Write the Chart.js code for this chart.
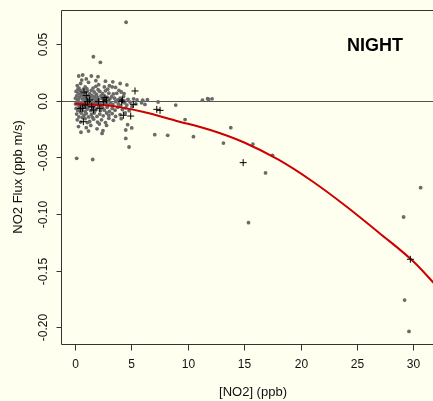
<!DOCTYPE html>
<html>
<head>
<meta charset="utf-8">
<title>NO2 flux - night</title>
<script src="https://cdn.jsdelivr.net/npm/chart.js@4/dist/chart.umd.min.js"></script>
<style>
  html, body { margin: 0; padding: 0; background: #FFFFF0; overflow: hidden; }
  canvas { display: block; }
</style>
</head>
<body>
<canvas id="fluxChart" width="460" height="401"></canvas>
<script>
// Night-time NO2 flux vs NO2 mixing ratio: [NO2 ppb, flux ppb m/s]
const grayPoints = [
  // cluster top
  [0.2,0.013],[0.5,0.015],[0.9,0.012],[1.2,0.016],[1.6,0.011],[2.1,0.014],[2.6,0.012],[3.3,0.012],
  [3.6,0.0115],[2.9,0.010],[4.6,0.0137],[0.35,0.011],[1.85,0.0125],[3.05,0.013],[3.9,0.009],
  [0.1,0.008],[0.3,0.006],[0.45,0.009],[0.6,0.0065],[0.75,0.010],[0.95,0.007],[1.1,0.0085],[1.3,0.006],
  [1.45,0.009],[1.7,0.0075],[1.9,0.0055],[2.2,0.008],[2.45,0.006],[2.7,0.0085],[3.0,0.0065],[3.4,0.0058],
  [3.7,0.0063],[4.35,0.006],[4.1,0.0075],[0.25,0.0095],[1.05,0.0105],[2.05,0.0095],
  // around zero
  [0.05,0.002],[0.15,0.004],[0.3,0.001],[0.4,0.003],[0.55,0.0045],[0.65,0.0015],[0.8,0.0035],[0.9,0.0005],
  [1.0,0.0025],[1.15,0.004],[1.25,0.001],[1.35,0.003],[1.5,0.0045],[1.6,0.0015],[1.75,0.0035],[1.85,0.0005],
  [2.0,0.003],[2.1,0.001],[2.3,0.004],[2.4,0.002],[2.55,0.0035],[2.7,0.0005],[2.85,0.003],[3.1,0.0015],
  [3.25,0.0035],[3.5,0.002],[3.8,0.0005],[4.0,0.002],[4.3,0.0035],[4.7,0.001],[5.2,0.0015],[5.5,0.0005],
  [6.0,0.0003],[6.42,0.0007],[3.9,0.0002],[4.2,-0.0004],
  [0.05,-0.003],[0.2,-0.001],[0.3,-0.004],[0.45,-0.002],[0.55,-0.0045],[0.7,-0.0015],[0.85,-0.0035],
  [0.95,-0.0005],[1.05,-0.004],[1.2,-0.002],[1.3,-0.0045],[1.45,-0.001],[1.55,-0.003],[1.7,-0.0045],
  [1.8,-0.0015],[1.95,-0.0035],[2.05,-0.0005],[2.2,-0.0025],[2.35,-0.0045],[2.5,-0.001],[2.65,-0.003],
  [2.8,-0.0015],[2.95,-0.004],[3.15,-0.002],[3.35,-0.0035],[3.6,-0.001],[3.85,-0.003],[4.05,-0.0045],
  [4.4,-0.002],[4.6,-0.004],[4.9,-0.0015],[5.4,-0.003],[5.9,-0.002],[6.2,-0.0035],[5.05,-0.0055],
  // cluster bottom
  [0.1,-0.007],[0.25,-0.009],[0.4,-0.0065],[0.6,-0.0085],[0.75,-0.006],[0.9,-0.0095],[1.1,-0.0075],
  [1.25,-0.0055],[1.4,-0.009],[1.6,-0.0065],[1.75,-0.0095],[1.9,-0.0075],[2.1,-0.0055],[2.25,-0.009],
  [2.45,-0.0065],[2.6,-0.0085],[2.85,-0.006],[3.05,-0.0095],[3.3,-0.007],[3.55,-0.0085],[3.8,-0.006],
  [4.2,-0.008],[4.5,-0.0065],[4.8,-0.009],[0.5,-0.0098],[1.0,-0.0052],
  [0.15,-0.012],[0.35,-0.0145],[0.55,-0.011],[0.8,-0.013],[1.0,-0.0115],[1.2,-0.0145],[1.45,-0.0125],
  [1.7,-0.011],[1.95,-0.014],[2.2,-0.012],[2.5,-0.0135],[2.8,-0.011],[3.0,-0.013],[3.3,-0.0115],
  [3.6,-0.014],[4.0,-0.0125],[4.45,-0.011],[0.65,-0.015],[1.55,-0.0148],
  [0.2,-0.017],[0.5,-0.019],[0.9,-0.016],[1.3,-0.0185],[1.65,-0.0165],[2.0,-0.019],[2.35,-0.017],
  [2.7,-0.0195],[3.0,-0.0157],[3.4,-0.0175],[4.1,-0.016],[1.1,-0.0195],
  [0.31,-0.023],[0.53,-0.028],[1.0,-0.024],[1.4,-0.022],[1.95,-0.025],[2.16,-0.0207],[2.4,-0.029],
  [2.48,-0.0266],[2.8,-0.022],[1.2,-0.027],[4.67,-0.0213],[5.03,-0.0242],[4.5,-0.026],[4.5,-0.0334],
  [4.79,-0.041],[0.15,-0.051],[1.57,-0.052],
  // above the cluster
  [4.53,0.069],[1.63,0.0386],[2.25,0.0337],[0.33,0.0216],[0.68,0.0225],[1.45,0.0216],[2.04,0.021],
  [0.6,0.018],[1.0,0.019],[1.85,0.0175],[2.7,0.017],[3.35,0.0165],[4.0,0.015],
  // higher NO2
  [7.37,-0.0013],[8.93,-0.004],[9.76,-0.0168],[7.07,-0.0301],[8.22,-0.0307],[10.5,-0.0319],
  [11.3,0.0003],[11.75,0.0016],[11.85,0.0009],[12.15,0.0015],[13.81,-0.024],[13.16,-0.0375],
  [15.77,-0.0384],[17.51,-0.0483],[16.89,-0.0639],[15.38,-0.1077],[29.13,-0.1027],[30.64,-0.0769],
  [29.22,-0.176],[29.61,-0.2036]
];

const crossPoints = [
  [0.8,0.0075],[0.68,-0.0069],[0.47,-0.007],[0.74,-0.0187],[1.1,-0.001],[1.3,0.0005],[1.48,-0.0055],
  [1.63,-0.0084],[2.07,-0.001],[2.2,-0.0069],[2.5,-0.001],[2.66,0.0025],[2.8,0.0004],[4.2,0.0004],
  [4.14,-0.001],[5.17,-0.0034],[5.32,0.0084],[4.29,-0.013],[4.94,-0.0137],[7.25,-0.0078],[7.54,-0.0087],
  [14.91,-0.0548],[29.73,-0.140],[1.0,0.0045],[0.9,-0.004]
];

// fitted curve, read along its length
const fitX = [0, 3, 6, 9, 12, 15, 18, 21, 24, 27, 30, 32];
const fitY = [-0.0028, -0.0045, -0.010, -0.018, -0.026, -0.037, -0.052, -0.071, -0.093, -0.117, -0.142, -0.163];

const xTicks = [0, 5, 10, 15, 20, 25, 30];
const yTicks = [0.05, 0, -0.05, -0.10, -0.15, -0.20];
const yTickLabels = ['0.05', '0.0', '-0.05', '-0.10', '-0.15', '-0.20'];

const toXY = arr => arr.map(p => ({ x: p[0], y: p[1] }));
const FONT = '"Liberation Sans", Arial, sans-serif';

// R-style frame, ticks, labels and zero line
const basePlot = {
  id: 'basePlot',
  beforeDraw(chart) {
    const ctx = chart.ctx;
    ctx.save();
    ctx.fillStyle = '#FFFFF0';
    ctx.fillRect(0, 0, chart.width, chart.height);
    ctx.restore();
  },
  beforeDatasetsDraw(chart) {
    const { ctx, chartArea: a, scales: { y } } = chart;
    const y0 = Math.round(y.getPixelForValue(0)) + 0.5;
    ctx.save();
    ctx.strokeStyle = '#555555';
    ctx.lineWidth = 1;
    ctx.beginPath();
    ctx.moveTo(a.left, y0);
    ctx.lineTo(a.right, y0);
    ctx.stroke();
    ctx.restore();
  },
  afterDraw(chart) {
    const { ctx, chartArea: a, scales: { x, y } } = chart;
    const L = Math.round(a.left) + 0.5, T = Math.round(a.top) + 0.5, B = Math.round(a.bottom) + 0.5;
    ctx.save();
    ctx.strokeStyle = '#333333';
    ctx.lineWidth = 1;
    ctx.beginPath();
    ctx.moveTo(a.right, T); ctx.lineTo(L, T); ctx.lineTo(L, B); ctx.lineTo(a.right, B);
    ctx.stroke();

    ctx.fillStyle = '#111111';
    ctx.font = '12px ' + FONT;
    ctx.textAlign = 'center';
    ctx.textBaseline = 'middle';
    xTicks.forEach(v => {
      const px = Math.round(x.getPixelForValue(v)) + 0.5;
      ctx.beginPath(); ctx.moveTo(px, B); ctx.lineTo(px, B + 6); ctx.stroke();
      ctx.fillText(String(v), px, 365);
    });
    yTicks.forEach((v, i) => {
      const py = Math.round(y.getPixelForValue(v)) + 0.5;
      ctx.beginPath(); ctx.moveTo(L, py); ctx.lineTo(L - 5, py); ctx.stroke();
      ctx.save();
      ctx.translate(44, py);
      ctx.rotate(-Math.PI / 2);
      ctx.fillText(yTickLabels[i], 0, 0);
      ctx.restore();
    });

    ctx.font = '13px ' + FONT;
    ctx.fillText('[NO2] (ppb)', (a.left + a.right) / 2, 392);
    ctx.save();
    ctx.translate(18, (a.top + a.bottom) / 2);
    ctx.rotate(-Math.PI / 2);
    ctx.fillText('NO2 Flux (ppb m/s)', 0, 0);
    ctx.restore();

    ctx.font = 'bold 18px ' + FONT;
    ctx.fillStyle = '#000000';
    ctx.fillText('NIGHT', 375, 46);
    ctx.restore();
  }
};

function initializeChart() {
  const ctx = document.getElementById('fluxChart').getContext('2d');
  new Chart(ctx, {
    type: 'scatter',
    data: {
      datasets: [{
        label: 'flux',
        data: toXY(grayPoints),
        backgroundColor: '#6A6A6A',
        borderWidth: 0,
        pointRadius: 1.9,
        order: 3
      }, {
        label: 'fit',
        data: fitX.map((v, i) => ({ x: v, y: fitY[i] })),
        showLine: true,
        borderColor: '#CC0000',
        borderWidth: 2,
        pointRadius: 0,
        cubicInterpolationMode: 'monotone',
        order: 2
      }, {
        label: 'selected',
        data: toXY(crossPoints),
        pointStyle: 'cross',
        pointRadius: 3.5,
        borderColor: '#000000',
        borderWidth: 1,
        order: 1
      }]
    },
    options: {
      responsive: false,
      animation: false,
      devicePixelRatio: 1,
      layout: { padding: { left: 0, top: 10, right: 15, bottom: 0 } },
      plugins: { legend: { display: false }, tooltip: { enabled: false } },
      scales: {
        x: {
          type: 'linear',
          min: -1.24,
          max: 32.8,
          ticks: { display: false },
          grid: { display: false },
          border: { display: false },
          afterFit(scale) { scale.height = 57; }
        },
        y: {
          type: 'linear',
          min: -0.2147,
          max: 0.0798,
          ticks: { display: false },
          grid: { display: false },
          border: { display: false },
          afterFit(scale) { scale.width = 61; }
        }
      }
    },
    plugins: [basePlot]
  });
}

document.addEventListener('DOMContentLoaded', initializeChart);
</script>
</body>
</html>
